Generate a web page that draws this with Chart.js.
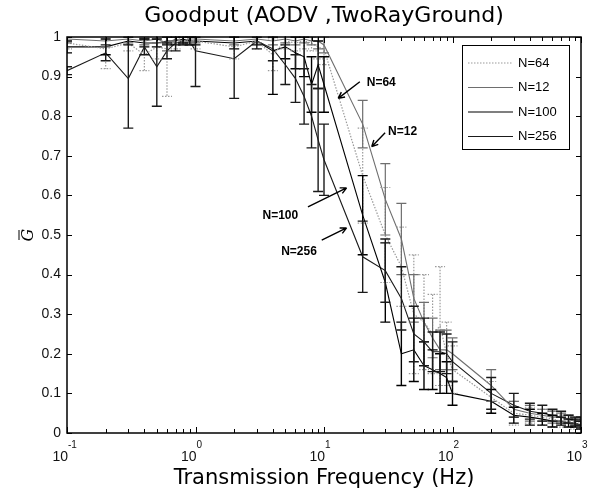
<!DOCTYPE html>
<html>
<head>
<meta charset="utf-8">
<script src="https://cdn.jsdelivr.net/npm/chart.js@4.4.0/dist/chart.umd.min.js"></script>
<style>
  html, body { margin: 0; padding: 0; background: #fff; }
  #wrap { position: relative; width: 590px; height: 495px; }
</style>
</head>
<body>
<div id="wrap"><canvas id="chart"></canvas></div>
<script>
// transmission frequencies (Hz)
const freqs = [0.1, 0.2, 0.3, 0.4, 0.5, 0.6, 0.7, 0.8, 0.9,
  1, 2, 3, 4, 5, 6, 7, 8, 9,
  10, 20, 30, 40, 50, 60, 70, 80, 90,
  100, 200, 300, 400, 500, 600, 700, 800, 900, 1000];

const goodput64 = [0.985, 0.97, 0.985, 0.955, 0.975, 0.97, 0.99, 1.0, 0.995,
  0.99, 0.975, 0.99, 0.955, 0.99, 0.985, 0.99, 0.985, 0.975,
  0.97, 0.65, 0.5, 0.42, 0.3, 0.28, 0.25, 0.27, 0.2,
  0.16, 0.09, 0.05, 0.045, 0.04, 0.035, 0.03, 0.03, 0.025, 0.025];
const err64 = [0.015, 0.05, 0.02, 0.04, 0.03, 0.12, 0.02, 0.01, 0.01,
  0.02, 0.03, 0.02, 0.04, 0.02, 0.02, 0.02, 0.02, 0.03,
  0.04, 0.12, 0.12, 0.1, 0.15, 0.12, 0.1, 0.15, 0.08,
  0.06, 0.04, 0.03, 0.02, 0.02, 0.02, 0.015, 0.015, 0.015, 0.01];

const goodput12 = [0.995, 0.99, 0.995, 0.99, 0.995, 0.985, 0.995, 0.99, 0.995,
  0.995, 0.99, 0.995, 0.99, 0.995, 0.99, 0.995, 0.99, 0.99,
  0.98, 0.78, 0.59, 0.49, 0.34, 0.28, 0.24, 0.21, 0.21,
  0.2, 0.12, 0.06, 0.05, 0.045, 0.04, 0.04, 0.035, 0.03, 0.03];
const err12 = [0.01, 0.015, 0.01, 0.01, 0.01, 0.02, 0.01, 0.01, 0.01,
  0.01, 0.01, 0.01, 0.01, 0.01, 0.01, 0.01, 0.01, 0.02,
  0.02, 0.06, 0.09, 0.09, 0.06, 0.05, 0.05, 0.05, 0.05,
  0.04, 0.04, 0.02, 0.02, 0.015, 0.015, 0.01, 0.01, 0.01, 0.01];

const goodput100 = [0.975, 0.975, 0.99, 0.985, 0.985, 0.99, 0.99, 0.995, 0.99,
  0.99, 0.985, 0.99, 0.965, 0.975, 0.96, 0.95, 0.88, 0.93,
  0.88, 0.55, 0.38, 0.2, 0.21, 0.17, 0.16, 0.15, 0.14,
  0.1, 0.08, 0.045, 0.04, 0.035, 0.03, 0.03, 0.025, 0.025, 0.02];
const err100 = [0.015, 0.02, 0.01, 0.01, 0.01, 0.01, 0.01, 0.01, 0.01,
  0.01, 0.015, 0.01, 0.11, 0.03, 0.04, 0.05, 0.07, 0.06,
  0.07, 0.1, 0.1, 0.08, 0.08, 0.06, 0.05, 0.05, 0.04,
  0.03, 0.03, 0.02, 0.02, 0.015, 0.015, 0.01, 0.01, 0.01, 0.01];

const goodput256 = [0.915, 0.96, 0.895, 0.975, 0.925, 0.965, 0.985, 0.99, 0.99,
  0.965, 0.945, 0.99, 0.97, 0.93, 0.895, 0.85, 0.8, 0.74,
  0.69, 0.445, 0.41, 0.34, 0.25, 0.23, 0.205, 0.205, 0.2,
  0.18, 0.1, 0.07, 0.055, 0.05, 0.045, 0.04, 0.035, 0.03, 0.03];
const err256 = [0.01, 0.02, 0.125, 0.02, 0.1, 0.02, 0.02, 0.01, 0.01,
  0.09, 0.1, 0.02, 0.03, 0.05, 0.06, 0.07, 0.08, 0.13,
  0.09, 0.09, 0.08, 0.08, 0.07, 0.06, 0.05, 0.05, 0.05,
  0.05, 0.04, 0.03, 0.02, 0.02, 0.015, 0.015, 0.01, 0.01, 0.01];

const seriesNames = ["N=64", "N=12", "N=100", "N=256"];
const yTicks = [0, 0.1, 0.2, 0.3, 0.4, 0.5, 0.6, 0.7, 0.8, 0.9, 1];
const xDecades = [0.1, 1, 10, 100, 1000];
const xExponents = ["-1", "0", "1", "2", "3"];

// arrow annotations: tip, tail and text anchor in data coordinates
const notes = [
  { text: "N=64", tip: [12.9, 0.845], tail: [19.0, 0.887], at: [21.5, 0.885], align: "left" },
  { text: "N=12", tip: [23.5, 0.723], tail: [29.9, 0.758], at: [31.5, 0.76], align: "left" },
  { text: "N=100", tip: [15.0, 0.619], tail: [7.5, 0.571], at: [6.3, 0.548], align: "right" },
  { text: "N=256", tip: [15.0, 0.518], tail: [9.6, 0.487], at: [8.8, 0.457], align: "right" }
];

const styles = [
  { color: "#9a9a9a", dash: [1.5, 1.5], width: 1.2 },
  { color: "#6e6e6e", dash: [], width: 1.1 },
  { color: "#000000", dash: [], width: 1.1 },
  { color: "#1a1a1a", dash: [], width: 1.1 }
];
const values = [goodput64, goodput12, goodput100, goodput256];
const errors = [err64, err12, err100, err256];

const datasets = values.map((vals, i) => ({
  label: seriesNames[i],
  data: freqs.map((f, j) => ({ x: f, y: vals[j] })),
  borderColor: styles[i].color,
  borderDash: styles[i].dash,
  borderWidth: styles[i].width,
  pointRadius: 0,
  fill: false,
  tension: 0,
  errors: errors[i]
}));

const FONT = "'Liberation Sans', Arial, sans-serif";

const matlabAxes = {
  id: "matlabAxes",
  afterDatasetsDraw(chart) {
    const { ctx, chartArea: a, scales: { x, y } } = chart;
    ctx.save();
    ctx.beginPath();
    ctx.rect(a.left, a.top - 0.5, a.right - a.left, a.bottom - a.top + 1);
    ctx.clip();
    chart.data.datasets.forEach((ds, i) => {
      ctx.strokeStyle = ds.borderColor;
      ctx.lineWidth = i >= 2 ? 1.4 : 1.2;
      ctx.setLineDash(ds.borderDash);
      ds.data.forEach((p, j) => {
        const e = ds.errors[j];
        const px = x.getPixelForValue(p.x);
        const yt = y.getPixelForValue(p.y + e);
        const yb = y.getPixelForValue(p.y - e);
        ctx.beginPath();
        ctx.moveTo(px, yt); ctx.lineTo(px, yb);
        ctx.moveTo(px - 5, yt); ctx.lineTo(px + 5, yt);
        ctx.moveTo(px - 5, yb); ctx.lineTo(px + 5, yb);
        ctx.stroke();
      });
    });
    ctx.restore();
  },
  afterDraw(chart) {
    const { ctx, chartArea: a, scales: { x, y } } = chart;
    ctx.save();
    ctx.strokeStyle = "#000";
    ctx.lineWidth = 1.5;
    ctx.setLineDash([]);
    ctx.strokeRect(a.left, a.top, a.right - a.left, a.bottom - a.top);

    // inner ticks
    ctx.lineWidth = 1;
    ctx.beginPath();
    yTicks.forEach(v => {
      const py = Math.round(y.getPixelForValue(v)) + 0.5;
      ctx.moveTo(a.left, py); ctx.lineTo(a.left + 5, py);
      ctx.moveTo(a.right, py); ctx.lineTo(a.right - 5, py);
    });
    xDecades.forEach((d, k) => {
      const steps = k < xDecades.length - 1 ? 9 : 1;
      for (let m = 1; m <= steps; m++) {
        const px = Math.round(x.getPixelForValue(d * m)) + 0.5;
        const len = m === 1 ? 6 : 4;
        ctx.moveTo(px, a.bottom); ctx.lineTo(px, a.bottom - len);
        ctx.moveTo(px, a.top); ctx.lineTo(px, a.top + len);
      }
    });
    ctx.stroke();

    // tick labels
    ctx.fillStyle = "#111";
    ctx.font = "14px " + FONT;
    ctx.textAlign = "right";
    ctx.textBaseline = "middle";
    yTicks.forEach(v => {
      ctx.fillText(String(Math.round(v * 10) / 10), a.left - 6, y.getPixelForValue(v));
    });
    xDecades.forEach((d, k) => {
      const px = x.getPixelForValue(d);
      ctx.font = "14px " + FONT;
      ctx.textAlign = "right";
      ctx.textBaseline = "alphabetic";
      ctx.fillText("10", px + 1, a.bottom + 28);
      ctx.font = "10px " + FONT;
      ctx.textAlign = "left";
      ctx.fillText(xExponents[k], px + 1, a.bottom + 15);
    });

    // titles
    ctx.fillStyle = "#000";
    ctx.textAlign = "center";
    ctx.textBaseline = "middle";
    ctx.font = "22px 'DejaVu Sans', sans-serif";
    ctx.fillText("Goodput (AODV ,TwoRayGround)", (a.left + a.right) / 2, 16);
    ctx.font = "21px 'DejaVu Sans', sans-serif";
    ctx.fillText("Transmission Frequency (Hz)", (a.left + a.right) / 2, a.bottom + 46);
    ctx.save();
    ctx.translate(29, (a.top + a.bottom) / 2);
    ctx.rotate(-Math.PI / 2);
    ctx.font = "italic 16px 'DejaVu Serif', serif";
    ctx.fillText("G", 0, 0);
    ctx.lineWidth = 1;
    ctx.beginPath();
    ctx.moveTo(-5, -10); ctx.lineTo(5, -10);
    ctx.stroke();
    ctx.restore();

    // legend box
    const lw = 107, lh = 104;
    const lx = a.right - 12 - lw, ly = a.top + 8;
    ctx.fillStyle = "#fff";
    ctx.fillRect(lx, ly, lw, lh);
    ctx.strokeStyle = "#000";
    ctx.lineWidth = 1;
    ctx.strokeRect(lx + 0.5, ly + 0.5, lw, lh);
    chart.data.datasets.forEach((ds, i) => {
      const ry = ly + 18 + i * 24.5;
      ctx.strokeStyle = ds.borderColor;
      ctx.lineWidth = ds.borderWidth;
      ctx.setLineDash(ds.borderDash);
      ctx.beginPath();
      ctx.moveTo(lx + 6, ry); ctx.lineTo(lx + 51, ry);
      ctx.stroke();
      ctx.setLineDash([]);
      ctx.fillStyle = "#000";
      ctx.font = "13px " + FONT;
      ctx.textAlign = "left";
      ctx.textBaseline = "middle";
      ctx.fillText(ds.label, lx + 56, ry);
    });

    // arrow annotations
    notes.forEach(n => {
      const tx = x.getPixelForValue(n.tip[0]), ty = y.getPixelForValue(n.tip[1]);
      const sx = x.getPixelForValue(n.tail[0]), sy = y.getPixelForValue(n.tail[1]);
      ctx.strokeStyle = "#000";
      ctx.lineWidth = 1.4;
      ctx.beginPath();
      ctx.moveTo(sx, sy); ctx.lineTo(tx, ty);
      const ang = Math.atan2(ty - sy, tx - sx);
      ctx.moveTo(tx, ty);
      ctx.lineTo(tx - 7 * Math.cos(ang - 0.45), ty - 7 * Math.sin(ang - 0.45));
      ctx.moveTo(tx, ty);
      ctx.lineTo(tx - 7 * Math.cos(ang + 0.45), ty - 7 * Math.sin(ang + 0.45));
      ctx.stroke();
      ctx.fillStyle = "#000";
      ctx.font = "bold 12px " + FONT;
      ctx.textAlign = n.align;
      ctx.textBaseline = "middle";
      ctx.fillText(n.text, x.getPixelForValue(n.at[0]), y.getPixelForValue(n.at[1]));
    });
    ctx.restore();
  }
};

new Chart(document.getElementById("chart"), {
  type: "line",
  data: { datasets },
  options: {
    responsive: true,
    maintainAspectRatio: false,
    animation: false,
    layout: { padding: { left: 67, right: 9, top: 37, bottom: 62 } },
    plugins: { legend: { display: false }, tooltip: { enabled: false } },
    scales: {
      x: { type: "logarithmic", min: 0.1, max: 1000, display: false },
      y: { type: "linear", min: 0, max: 1, display: false }
    }
  },
  plugins: [matlabAxes]
});
</script>
</body>
</html>
